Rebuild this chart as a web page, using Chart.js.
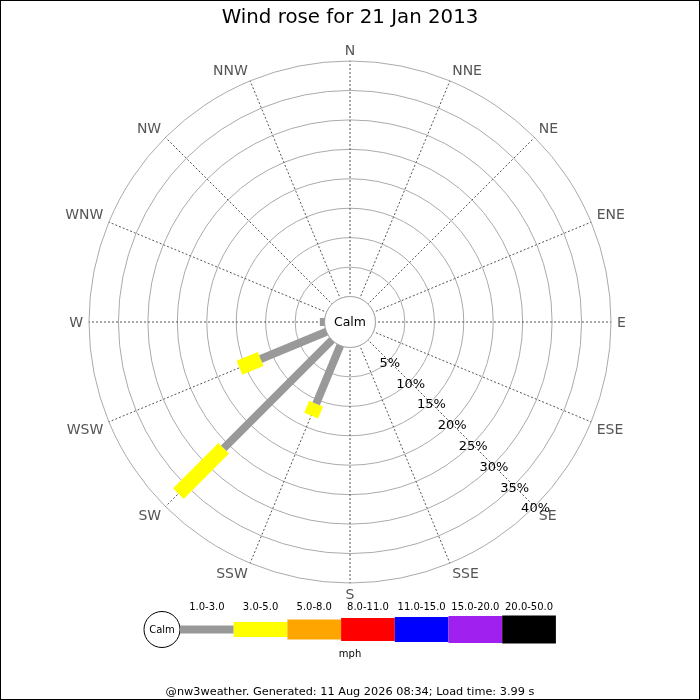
<!DOCTYPE html>
<html>
<head>
<meta charset="utf-8">
<title>Wind rose</title>
<script src="https://cdn.jsdelivr.net/npm/chart.js@4.4.1/dist/chart.umd.min.js"></script>
<style>
  body { margin: 0; background: #fff; }
  canvas { display: block; }
</style>
</head>
<body>
<canvas id="roseChart" width="700" height="700"></canvas>
<script>
// compass points, clockwise from north
const directions = ['N', 'NNE', 'NE', 'ENE', 'E', 'ESE', 'SE', 'SSE',
                    'S', 'SSW', 'SW', 'WSW', 'W', 'WNW', 'NW', 'NNW'];

// % of the day in each speed band, per direction (null = nothing)
const band1to3 = [null, null, null, null, null, null, null, null,
                  null, 10.7, 26.0, 12.1, 0.8, null, null, null];
const band3to5 = [null, null, null, null, null, null, null, null,
                  null, 2.2, 10.9, 3.9, null, null, null, null];

const speedBands = ['1.0-3.0', '3.0-5.0', '5.0-8.0', '8.0-11.0', '11.0-15.0', '15.0-20.0', '20.0-50.0'];
const bandColors = ['#999999', '#ffff00', '#ffa500', '#ff0000', '#0000ff', '#a020f0', '#000000'];
const bandWidths = [8, 15, 20, 23, 25, 27, 28];

const ringValues = [5, 10, 15, 20, 25, 30, 35, 40];
const calmOffset = -4.32; // leaves room for the calm circle in the middle

const titleText = 'Wind rose for 21 Jan 2013';
const footerText = '@nw3weather. Generated: 11 Aug 2026 08:34; Load time: 3.99 s';

Chart.defaults.font.family = "'DejaVu Sans', sans-serif";

// stack the bands: each point sits in the middle of its segment,
// and is drawn as a rotated line as long as the segment
const series = [band1to3, band3to5];
let base = directions.map(() => 0);
const datasets = series.map(function (vals, k) {
    const start = base.slice();
    const end = vals.map((v, i) => v == null ? start[i] : start[i] + v);
    base = end;
    return {
        label: speedBands[k] + ' mph',
        data: vals.map((v, i) => v == null ? null : (start[i] + end[i]) / 2),
        showLine: false,
        fill: false,
        pointStyle: 'line',
        pointBorderColor: bandColors[k],
        pointBackgroundColor: bandColors[k],
        pointBorderWidth: bandWidths[k],
        pointRadius: function (ctx) {
            const r = ctx.chart.scales.r;
            const i = ctx.dataIndex;
            if (i == null || !r) return 0;
            return (r.getDistanceFromCenterForValue(end[i]) - r.getDistanceFromCenterForValue(start[i])) / 2;
        },
        pointRotation: ctx => (ctx.dataIndex || 0) * 360 / directions.length - 90
    };
});

const roseExtras = {
    id: 'roseExtras',
    beforeDatasetsDraw(chart) {
        const r = chart.scales.r;
        const ctx = chart.ctx;
        ctx.save();
        ctx.beginPath();
        ctx.arc(r.xCenter, r.yCenter, r.getDistanceFromCenterForValue(0), 0, Math.PI * 2);
        ctx.fillStyle = '#fff';
        ctx.fill();
        ctx.strokeStyle = '#aaaaaa';
        ctx.lineWidth = 1;
        ctx.stroke();
        ctx.restore();
    },
    afterDraw(chart) {
        const r = chart.scales.r;
        const ctx = chart.ctx;
        ctx.save();
        ctx.textBaseline = 'middle';

        // calm label
        ctx.fillStyle = '#000';
        ctx.textAlign = 'center';
        ctx.font = "12.5px 'DejaVu Sans'";
        ctx.fillText('Calm', r.xCenter, r.yCenter + 1);

        // compass labels
        ctx.fillStyle = '#555';
        ctx.font = "14px 'DejaVu Sans'";
        directions.forEach(function (d, i) {
            const deg = i * 360 / directions.length;
            const p = r.getPointPosition(i, r.drawingArea + 6);
            ctx.textAlign = (deg === 0 || deg === 180) ? 'center' : (deg < 180 ? 'left' : 'right');
            let dy = 1;
            if (deg < 90 || deg > 270) dy = -4;
            else if (deg > 90 && deg < 270) dy = 6;
            ctx.fillText(d, p.x, p.y + dy);
        });

        // ring labels along the SE line
        ctx.fillStyle = '#000';
        ctx.font = "13px 'DejaVu Sans'";
        ctx.textAlign = 'center';
        const se = directions.indexOf('SE');
        ringValues.forEach(function (v) {
            const p = r.getPointPosition(se, r.getDistanceFromCenterForValue(v));
            ctx.fillText(v + '%', p.x + 1, p.y + 2.5);
        });

        // speed legend
        const cy = 629.5;
        const left = 180, segW = 53.7;
        ctx.beginPath();
        ctx.arc(162, cy, 18, 0, Math.PI * 2);
        ctx.strokeStyle = '#000';
        ctx.lineWidth = 1;
        ctx.stroke();
        ctx.font = "10px 'DejaVu Sans'";
        ctx.fillText('Calm', 162, cy + 1);
        speedBands.forEach(function (b, k) {
            const h = bandWidths[k];
            ctx.fillStyle = bandColors[k];
            ctx.fillRect(left + k * segW, cy - h / 2, segW, h);
            ctx.fillStyle = '#000';
            ctx.fillText(b, left + k * segW + segW / 2, 607.5);
        });
        ctx.fillText('mph', 350, 654.5);

        // frame
        ctx.strokeStyle = '#000';
        ctx.strokeRect(0.5, 0.5, 699, 699);
        ctx.restore();
    }
};

new Chart(document.getElementById('roseChart'), {
    type: 'radar',
    data: {
        labels: directions,
        datasets: datasets
    },
    options: {
        responsive: false,
        animation: false,
        events: [],
        layout: { padding: { left: 89, right: 89, top: 0, bottom: 0 } },
        scales: {
            r: {
                min: calmOffset,
                max: 40,
                startAngle: 0,
                afterBuildTicks: function (s) {
                    s.ticks = [0].concat(ringValues).map(v => ({ value: v }));
                },
                ticks: { display: false },
                pointLabels: { display: false },
                grid: { circular: true, color: '#aaaaaa', lineWidth: 1 },
                angleLines: { color: '#555555', lineWidth: 1, borderDash: [2, 2] }
            }
        },
        plugins: {
            legend: { display: false },
            tooltip: { enabled: false },
            title: {
                display: true,
                text: titleText,
                color: '#000',
                font: { size: 19.8, weight: 'normal', lineHeight: '24px' },
                padding: { top: 6, bottom: 31 }
            },
            subtitle: {
                display: true,
                position: 'bottom',
                text: footerText,
                color: '#000',
                font: { size: 11.3, weight: 'normal', lineHeight: '14px' },
                padding: { top: 102, bottom: 1 }
            }
        }
    },
    plugins: [roseExtras]
});
</script>
</body>
</html>
